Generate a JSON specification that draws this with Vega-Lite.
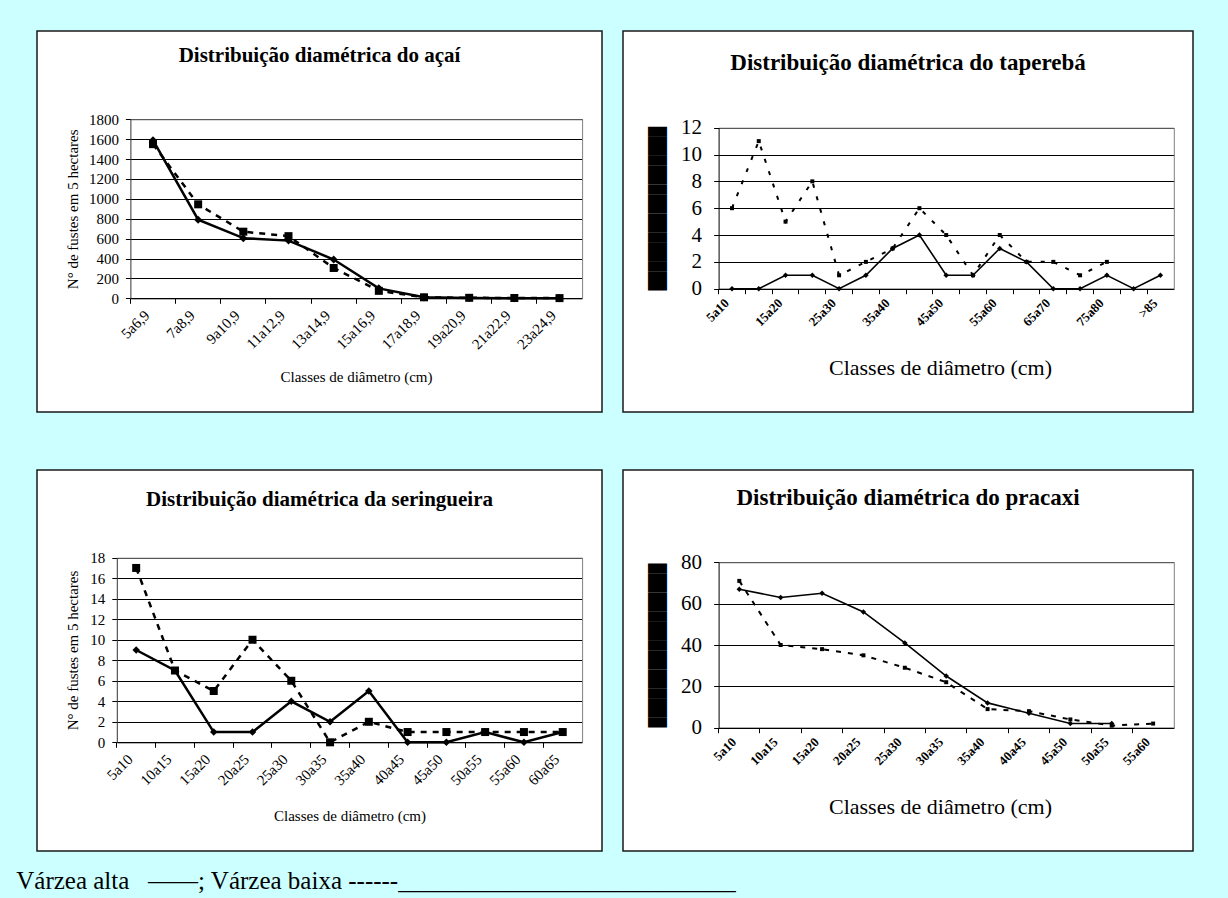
{
  "$schema": "https://vega.github.io/schema/vega-lite/v6.json",
  "background": "#CCFFFF",
  "padding": {"left": 16, "top": 30, "right": 35, "bottom": 4},
  "config": {
    "axis": {"labelFont": "Liberation Serif", "titleFont": "Liberation Serif", "labelColor": "black", "titleColor": "black", "titleFontWeight": "normal"},
    "title": {"font": "Liberation Serif", "color": "black"}
  },
  "title": {
    "text": "Várzea alta\u00a0\u00a0\u00a0——; Várzea baixa ------___________________________",
    "orient": "bottom", "anchor": "start", "frame": "bounds", "offset": 37, "dx": -20,
    "baseline": "alphabetic", "font": "Liberation Serif", "fontSize": 25, "fontWeight": "normal", "color": "black"
  },
  "datasets": {
    "acai": [
      {"classe": "5a6,9", "serie": "alta", "n": 1590},
      {"classe": "7a8,9", "serie": "alta", "n": 790},
      {"classe": "9a10,9", "serie": "alta", "n": 605},
      {"classe": "11a12,9", "serie": "alta", "n": 580},
      {"classe": "13a14,9", "serie": "alta", "n": 390},
      {"classe": "15a16,9", "serie": "alta", "n": 100},
      {"classe": "17a18,9", "serie": "alta", "n": 10},
      {"classe": "19a20,9", "serie": "alta", "n": 3},
      {"classe": "21a22,9", "serie": "alta", "n": 1},
      {"classe": "23a24,9", "serie": "alta", "n": 1},
      {"classe": "5a6,9", "serie": "baixa", "n": 1550},
      {"classe": "7a8,9", "serie": "baixa", "n": 945},
      {"classe": "9a10,9", "serie": "baixa", "n": 670},
      {"classe": "11a12,9", "serie": "baixa", "n": 625},
      {"classe": "13a14,9", "serie": "baixa", "n": 305},
      {"classe": "15a16,9", "serie": "baixa", "n": 75},
      {"classe": "17a18,9", "serie": "baixa", "n": 10},
      {"classe": "19a20,9", "serie": "baixa", "n": 5},
      {"classe": "21a22,9", "serie": "baixa", "n": 3},
      {"classe": "23a24,9", "serie": "baixa", "n": 2}
    ],
    "tapereba": [
      {"classe": "5a10", "serie": "alta", "n": 0},
      {"classe": "10a15", "serie": "alta", "n": 0},
      {"classe": "15a20", "serie": "alta", "n": 1},
      {"classe": "20a25", "serie": "alta", "n": 1},
      {"classe": "25a30", "serie": "alta", "n": 0},
      {"classe": "30a35", "serie": "alta", "n": 1},
      {"classe": "35a40", "serie": "alta", "n": 3},
      {"classe": "40a45", "serie": "alta", "n": 4},
      {"classe": "45a50", "serie": "alta", "n": 1},
      {"classe": "50a55", "serie": "alta", "n": 1},
      {"classe": "55a60", "serie": "alta", "n": 3},
      {"classe": "60a65", "serie": "alta", "n": 2},
      {"classe": "65a70", "serie": "alta", "n": 0},
      {"classe": "70a75", "serie": "alta", "n": 0},
      {"classe": "75a80", "serie": "alta", "n": 1},
      {"classe": "80a85", "serie": "alta", "n": 0},
      {"classe": ">85", "serie": "alta", "n": 1},
      {"classe": "5a10", "serie": "baixa", "n": 6},
      {"classe": "10a15", "serie": "baixa", "n": 11},
      {"classe": "15a20", "serie": "baixa", "n": 5},
      {"classe": "20a25", "serie": "baixa", "n": 8},
      {"classe": "25a30", "serie": "baixa", "n": 1},
      {"classe": "30a35", "serie": "baixa", "n": 2},
      {"classe": "35a40", "serie": "baixa", "n": 3},
      {"classe": "40a45", "serie": "baixa", "n": 6},
      {"classe": "45a50", "serie": "baixa", "n": 4},
      {"classe": "50a55", "serie": "baixa", "n": 1},
      {"classe": "55a60", "serie": "baixa", "n": 4},
      {"classe": "60a65", "serie": "baixa", "n": 2},
      {"classe": "65a70", "serie": "baixa", "n": 2},
      {"classe": "70a75", "serie": "baixa", "n": 1},
      {"classe": "75a80", "serie": "baixa", "n": 2}
    ],
    "seringueira": [
      {"classe": "5a10", "serie": "alta", "n": 9},
      {"classe": "10a15", "serie": "alta", "n": 7},
      {"classe": "15a20", "serie": "alta", "n": 1},
      {"classe": "20a25", "serie": "alta", "n": 1},
      {"classe": "25a30", "serie": "alta", "n": 4},
      {"classe": "30a35", "serie": "alta", "n": 2},
      {"classe": "35a40", "serie": "alta", "n": 5},
      {"classe": "40a45", "serie": "alta", "n": 0},
      {"classe": "45a50", "serie": "alta", "n": 0},
      {"classe": "50a55", "serie": "alta", "n": 1},
      {"classe": "55a60", "serie": "alta", "n": 0},
      {"classe": "60a65", "serie": "alta", "n": 1},
      {"classe": "5a10", "serie": "baixa", "n": 17},
      {"classe": "10a15", "serie": "baixa", "n": 7},
      {"classe": "15a20", "serie": "baixa", "n": 5},
      {"classe": "20a25", "serie": "baixa", "n": 10},
      {"classe": "25a30", "serie": "baixa", "n": 6},
      {"classe": "30a35", "serie": "baixa", "n": 0},
      {"classe": "35a40", "serie": "baixa", "n": 2},
      {"classe": "40a45", "serie": "baixa", "n": 1},
      {"classe": "45a50", "serie": "baixa", "n": 1},
      {"classe": "50a55", "serie": "baixa", "n": 1},
      {"classe": "55a60", "serie": "baixa", "n": 1},
      {"classe": "60a65", "serie": "baixa", "n": 1}
    ],
    "pracaxi": [
      {"classe": "5a10", "serie": "alta", "n": 67},
      {"classe": "10a15", "serie": "alta", "n": 63},
      {"classe": "15a20", "serie": "alta", "n": 65},
      {"classe": "20a25", "serie": "alta", "n": 56},
      {"classe": "25a30", "serie": "alta", "n": 41},
      {"classe": "30a35", "serie": "alta", "n": 25},
      {"classe": "35a40", "serie": "alta", "n": 12},
      {"classe": "40a45", "serie": "alta", "n": 7},
      {"classe": "45a50", "serie": "alta", "n": 2},
      {"classe": "50a55", "serie": "alta", "n": 2},
      {"classe": "5a10", "serie": "baixa", "n": 71},
      {"classe": "10a15", "serie": "baixa", "n": 40},
      {"classe": "15a20", "serie": "baixa", "n": 38},
      {"classe": "20a25", "serie": "baixa", "n": 35},
      {"classe": "25a30", "serie": "baixa", "n": 29},
      {"classe": "30a35", "serie": "baixa", "n": 22},
      {"classe": "35a40", "serie": "baixa", "n": 9},
      {"classe": "40a45", "serie": "baixa", "n": 8},
      {"classe": "45a50", "serie": "baixa", "n": 4},
      {"classe": "50a55", "serie": "baixa", "n": 1},
      {"classe": "55a60", "serie": "baixa", "n": 2}
    ]
  },
  "bounds": "flush",
  "columns": 2,
  "spacing": {"row": 58, "column": 21},
  "concat": [
    {
      "width": 565, "height": 381,
      "view": {"fill": "white", "stroke": "#1a1a1a", "strokeWidth": 1.5},
      "title": {"text": "Distribuição diamétrica do açaí", "font": "Liberation Serif", "fontSize": 21, "fontWeight": "bold", "color": "black", "anchor": "middle", "baseline": "alphabetic", "offset": -52},
      "data": {"name": "acai"},
      "resolve": {"axis": {"x": "independent", "y": "independent"}},
      "layer": [
        {
          "transform": [{"filter": "datum.serie == 'alta'"}],
          "mark": {"type": "line", "color": "black", "strokeWidth": 2.5},
          "encoding": {
            "order": {"value": null},
            "x": {"field": "classe", "type": "ordinal", "scale": {"type": "band", "domain": ["5a6,9","7a8,9","9a10,9","11a12,9","13a14,9","15a16,9","17a18,9","19a20,9","21a22,9","23a24,9"], "range": [93.4, 545.1], "paddingInner": 0, "paddingOuter": 0},
              "axis": {"orient": "bottom", "offset": -113.7, "bandPosition": 0.5, "ticks": false, "domain": false, "grid": false, "labelAngle": -45, "labelAlign": "right", "labelBaseline": "middle", "labelPadding": 14, "labelOffset": -6, "labelFontSize": 15, "labelOverlap": false, "title": "Classes de diâmetro (cm)", "titleFontSize": 15, "titleX": 319, "titleY": 78, "titleAlign": "center", "titleBaseline": "middle", "zindex": 1}},
            "y": {"field": "n", "type": "quantitative", "scale": {"domain": [0, 1800], "range": [267.3, 88.3], "nice": false, "zero": true},
              "axis": {"orient": "left", "offset": -93.4, "values": [0,200,400,600,800,1000,1200,1400,1600,1800], "format": "d", "grid": true, "gridColor": "black", "gridWidth": 1, "gridOpacity": 1, "domain": true, "domainColor": "#333333", "ticks": true, "tickSize": 5, "tickColor": "black", "labelPadding": 7, "labelFontSize": 15, "labelOverlap": false, "title": "N° de fustes em 5 hectares", "titleFontSize": 15, "titleX": -58, "titleY": 177.8, "titleAngle": -90, "titleAlign": "center", "titleBaseline": "middle", "zindex": 1}}
          }
        },
        {
          "transform": [{"filter": "datum.serie == 'baixa'"}],
          "mark": {"type": "line", "color": "black", "strokeWidth": 2.5, "strokeDash": [6, 6]},
          "encoding": {
            "order": {"value": null},
            "x": {"field": "classe", "type": "ordinal", "axis": {"orient": "bottom", "offset": -113.7, "bandPosition": 0, "labels": false, "ticks": true, "tickSize": 5, "tickColor": "black", "domain": true, "domainColor": "black", "grid": false, "title": null, "zindex": 1}},
            "y": {"field": "n", "type": "quantitative", "axis": {"orient": "right", "offset": -19.9, "domain": true, "domainColor": "#808080", "ticks": false, "labels": false, "grid": false, "title": null, "zindex": 1}}
          }
        },
        {
          "transform": [{"filter": "datum.serie == 'alta'"}],
          "mark": {"type": "point", "shape": "diamond", "filled": true, "color": "black", "opacity": 1, "size": 64},
          "encoding": {
            "x": {"field": "classe", "type": "ordinal", "axis": null},
            "y": {"field": "n", "type": "quantitative", "axis": null}
          }
        },
        {
          "transform": [{"filter": "datum.serie == 'baixa'"}],
          "mark": {"type": "point", "shape": "square", "filled": true, "color": "black", "opacity": 1, "size": 64},
          "encoding": {
            "x": {"field": "classe", "type": "ordinal", "axis": {"orient": "top", "offset": -88.3, "domain": true, "domainColor": "#808080", "ticks": false, "labels": false, "grid": false, "title": null, "zindex": 1}},
            "y": {"field": "n", "type": "quantitative", "axis": null}
          }
        }
      ]
    },
    {
      "width": 570, "height": 381,
      "view": {"fill": "white", "stroke": "#1a1a1a", "strokeWidth": 1.5},
      "title": {"text": "Distribuição diamétrica do taperebá", "font": "Liberation Serif", "fontSize": 23, "fontWeight": "bold", "color": "black", "anchor": "middle", "baseline": "alphabetic", "offset": -62},
      "data": {"name": "tapereba"},
      "resolve": {"axis": {"x": "independent", "y": "independent"}},
      "layer": [
        {
          "transform": [{"filter": "datum.serie == 'alta'"}],
          "mark": {"type": "line", "color": "black", "strokeWidth": 1.6},
          "encoding": {
            "order": {"value": null},
            "x": {"field": "classe", "type": "ordinal", "scale": {"type": "band", "domain": ["5a10","10a15","15a20","20a25","25a30","30a35","35a40","40a45","45a50","50a55","55a60","60a65","65a70","70a75","75a80","80a85",">85"], "range": [95.6, 550.8], "paddingInner": 0, "paddingOuter": 0},
              "axis": {"orient": "bottom", "offset": -123.3, "bandPosition": 0.5, "values": ["5a10","15a20","25a30","35a40","45a50","55a60","65a70","75a80",">85"], "ticks": false, "domain": false, "grid": false, "labelAngle": -45, "labelAlign": "right", "labelBaseline": "middle", "labelPadding": 12, "labelOffset": -5, "labelFontSize": 13, "labelFontWeight": "bold", "labelOverlap": false, "title": "Classes de diâmetro (cm)", "titleFontSize": 22, "titleX": 317, "titleY": 79, "titleAlign": "center", "titleBaseline": "middle", "zindex": 1}},
            "y": {"field": "n", "type": "quantitative", "scale": {"domain": [0, 12], "range": [257.7, 96.7], "nice": false, "zero": true},
              "axis": {"orient": "left", "offset": -95.6, "values": [0,2,4,6,8,10,12], "grid": true, "gridColor": "black", "gridWidth": 1, "gridOpacity": 1, "domain": true, "domainColor": "black", "ticks": true, "tickSize": 5, "tickColor": "black", "labelPadding": 12, "labelFontSize": 21, "labelOverlap": false, "title": "█████████████████", "titleFont": "DejaVu Sans Mono", "titleFontSize": 16, "titleX": -61, "titleY": 177.2, "titleAngle": -90, "titleAlign": "center", "titleBaseline": "middle", "zindex": 1}}
          }
        },
        {
          "transform": [{"filter": "datum.serie == 'baixa'"}],
          "mark": {"type": "line", "color": "black", "strokeWidth": 2, "strokeDash": [4, 9]},
          "encoding": {
            "order": {"value": null},
            "x": {"field": "classe", "type": "ordinal", "axis": {"orient": "bottom", "offset": -123.3, "bandPosition": 0, "labels": false, "ticks": true, "tickSize": 5, "tickColor": "black", "domain": true, "domainColor": "black", "grid": false, "title": null, "zindex": 1}},
            "y": {"field": "n", "type": "quantitative", "axis": {"orient": "right", "offset": -19.2, "domain": true, "domainColor": "#808080", "ticks": false, "labels": false, "grid": false, "title": null, "zindex": 1}}
          }
        },
        {
          "transform": [{"filter": "datum.serie == 'alta'"}],
          "mark": {"type": "point", "shape": "diamond", "filled": true, "color": "black", "opacity": 1, "size": 30},
          "encoding": {
            "x": {"field": "classe", "type": "ordinal", "axis": null},
            "y": {"field": "n", "type": "quantitative", "axis": null}
          }
        },
        {
          "transform": [{"filter": "datum.serie == 'baixa'"}],
          "mark": {"type": "point", "shape": "square", "filled": true, "color": "black", "opacity": 1, "size": 16},
          "encoding": {
            "x": {"field": "classe", "type": "ordinal", "axis": {"orient": "top", "offset": -96.7, "domain": true, "domainColor": "#808080", "ticks": false, "labels": false, "grid": false, "title": null, "zindex": 1}},
            "y": {"field": "n", "type": "quantitative", "axis": null}
          }
        }
      ]
    },
    {
      "width": 565, "height": 381,
      "view": {"fill": "white", "stroke": "#1a1a1a", "strokeWidth": 1.5},
      "title": {"text": "Distribuição diamétrica da seringueira", "font": "Liberation Serif", "fontSize": 21, "fontWeight": "bold", "color": "black", "anchor": "middle", "baseline": "alphabetic", "offset": -57},
      "data": {"name": "seringueira"},
      "resolve": {"axis": {"x": "independent", "y": "independent"}},
      "layer": [
        {
          "transform": [{"filter": "datum.serie == 'alta'"}],
          "mark": {"type": "line", "color": "black", "strokeWidth": 2.5},
          "encoding": {
            "order": {"value": null},
            "x": {"field": "classe", "type": "ordinal", "scale": {"type": "band", "domain": ["5a10","10a15","15a20","20a25","25a30","30a35","35a40","40a45","45a50","50a55","55a60","60a65"], "range": [79.8, 545.1], "paddingInner": 0, "paddingOuter": 0},
              "axis": {"orient": "bottom", "offset": -108.7, "bandPosition": 0.5, "ticks": false, "domain": false, "grid": false, "labelAngle": -45, "labelAlign": "right", "labelBaseline": "middle", "labelPadding": 14, "labelOffset": -6, "labelFontSize": 15, "labelOverlap": false, "title": "Classes de diâmetro (cm)", "titleFontSize": 15, "titleX": 312.5, "titleY": 73, "titleAlign": "center", "titleBaseline": "middle", "zindex": 1}},
            "y": {"field": "n", "type": "quantitative", "scale": {"domain": [0, 18], "range": [272.3, 87.7], "nice": false, "zero": true},
              "axis": {"orient": "left", "offset": -79.8, "values": [0,2,4,6,8,10,12,14,16,18], "grid": true, "gridColor": "black", "gridWidth": 1, "gridOpacity": 1, "domain": true, "domainColor": "#333333", "ticks": true, "tickSize": 5, "tickColor": "black", "labelPadding": 7, "labelFontSize": 15, "labelOverlap": false, "title": "N° de fustes em 5 hectares", "titleFontSize": 15, "titleX": -44.8, "titleY": 180, "titleAngle": -90, "titleAlign": "center", "titleBaseline": "middle", "zindex": 1}}
          }
        },
        {
          "transform": [{"filter": "datum.serie == 'baixa'"}],
          "mark": {"type": "line", "color": "black", "strokeWidth": 2.5, "strokeDash": [6, 6]},
          "encoding": {
            "order": {"value": null},
            "x": {"field": "classe", "type": "ordinal", "axis": {"orient": "bottom", "offset": -108.7, "bandPosition": 0, "labels": false, "ticks": true, "tickSize": 5, "tickColor": "black", "domain": true, "domainColor": "black", "grid": false, "title": null, "zindex": 1}},
            "y": {"field": "n", "type": "quantitative", "axis": {"orient": "right", "offset": -19.9, "domain": true, "domainColor": "#808080", "ticks": false, "labels": false, "grid": false, "title": null, "zindex": 1}}
          }
        },
        {
          "transform": [{"filter": "datum.serie == 'alta'"}],
          "mark": {"type": "point", "shape": "diamond", "filled": true, "color": "black", "opacity": 1, "size": 56},
          "encoding": {
            "x": {"field": "classe", "type": "ordinal", "axis": null},
            "y": {"field": "n", "type": "quantitative", "axis": null}
          }
        },
        {
          "transform": [{"filter": "datum.serie == 'baixa'"}],
          "mark": {"type": "point", "shape": "square", "filled": true, "color": "black", "opacity": 1, "size": 64},
          "encoding": {
            "x": {"field": "classe", "type": "ordinal", "axis": {"orient": "top", "offset": -87.7, "domain": true, "domainColor": "#808080", "ticks": false, "labels": false, "grid": false, "title": null, "zindex": 1}},
            "y": {"field": "n", "type": "quantitative", "axis": null}
          }
        }
      ]
    },
    {
      "width": 570, "height": 381,
      "view": {"fill": "white", "stroke": "#1a1a1a", "strokeWidth": 1.5},
      "title": {"text": "Distribuição diamétrica do pracaxi", "font": "Liberation Serif", "fontSize": 23, "fontWeight": "bold", "color": "black", "anchor": "middle", "baseline": "alphabetic", "offset": -58},
      "data": {"name": "pracaxi"},
      "resolve": {"axis": {"x": "independent", "y": "independent"}},
      "layer": [
        {
          "transform": [{"filter": "datum.serie == 'alta'"}],
          "mark": {"type": "line", "color": "black", "strokeWidth": 1.6},
          "encoding": {
            "order": {"value": null},
            "x": {"field": "classe", "type": "ordinal", "scale": {"type": "band", "domain": ["5a10","10a15","15a20","20a25","25a30","30a35","35a40","40a45","45a50","50a55","55a60"], "range": [95.6, 550.8], "paddingInner": 0, "paddingOuter": 0},
              "axis": {"orient": "bottom", "offset": -123.3, "bandPosition": 0.5, "ticks": false, "domain": false, "grid": false, "labelAngle": -45, "labelAlign": "right", "labelBaseline": "middle", "labelPadding": 12, "labelOffset": -5, "labelFontSize": 13, "labelFontWeight": "bold", "labelOverlap": false, "title": "Classes de diâmetro (cm)", "titleFontSize": 22, "titleX": 317, "titleY": 79, "titleAlign": "center", "titleBaseline": "middle", "zindex": 1}},
            "y": {"field": "n", "type": "quantitative", "scale": {"domain": [0, 80], "range": [257.7, 92.3], "nice": false, "zero": true},
              "axis": {"orient": "left", "offset": -95.6, "values": [0,20,40,60,80], "grid": true, "gridColor": "black", "gridWidth": 1, "gridOpacity": 1, "domain": true, "domainColor": "black", "ticks": true, "tickSize": 5, "tickColor": "black", "labelPadding": 12, "labelFontSize": 21, "labelOverlap": false, "title": "█████████████████", "titleFont": "DejaVu Sans Mono", "titleFontSize": 16, "titleX": -61, "titleY": 175, "titleAngle": -90, "titleAlign": "center", "titleBaseline": "middle", "zindex": 1}}
          }
        },
        {
          "transform": [{"filter": "datum.serie == 'baixa'"}],
          "mark": {"type": "line", "color": "black", "strokeWidth": 2, "strokeDash": [5, 7]},
          "encoding": {
            "order": {"value": null},
            "x": {"field": "classe", "type": "ordinal", "axis": {"orient": "bottom", "offset": -123.3, "bandPosition": 0, "labels": false, "ticks": true, "tickSize": 5, "tickColor": "black", "domain": true, "domainColor": "black", "grid": false, "title": null, "zindex": 1}},
            "y": {"field": "n", "type": "quantitative", "axis": {"orient": "right", "offset": -19.2, "domain": true, "domainColor": "#808080", "ticks": false, "labels": false, "grid": false, "title": null, "zindex": 1}}
          }
        },
        {
          "transform": [{"filter": "datum.serie == 'alta'"}],
          "mark": {"type": "point", "shape": "diamond", "filled": true, "color": "black", "opacity": 1, "size": 30},
          "encoding": {
            "x": {"field": "classe", "type": "ordinal", "axis": null},
            "y": {"field": "n", "type": "quantitative", "axis": null}
          }
        },
        {
          "transform": [{"filter": "datum.serie == 'baixa'"}],
          "mark": {"type": "point", "shape": "square", "filled": true, "color": "black", "opacity": 1, "size": 16},
          "encoding": {
            "x": {"field": "classe", "type": "ordinal", "axis": {"orient": "top", "offset": -92.3, "domain": true, "domainColor": "#808080", "ticks": false, "labels": false, "grid": false, "title": null, "zindex": 1}},
            "y": {"field": "n", "type": "quantitative", "axis": null}
          }
        }
      ]
    }
  ]
}
